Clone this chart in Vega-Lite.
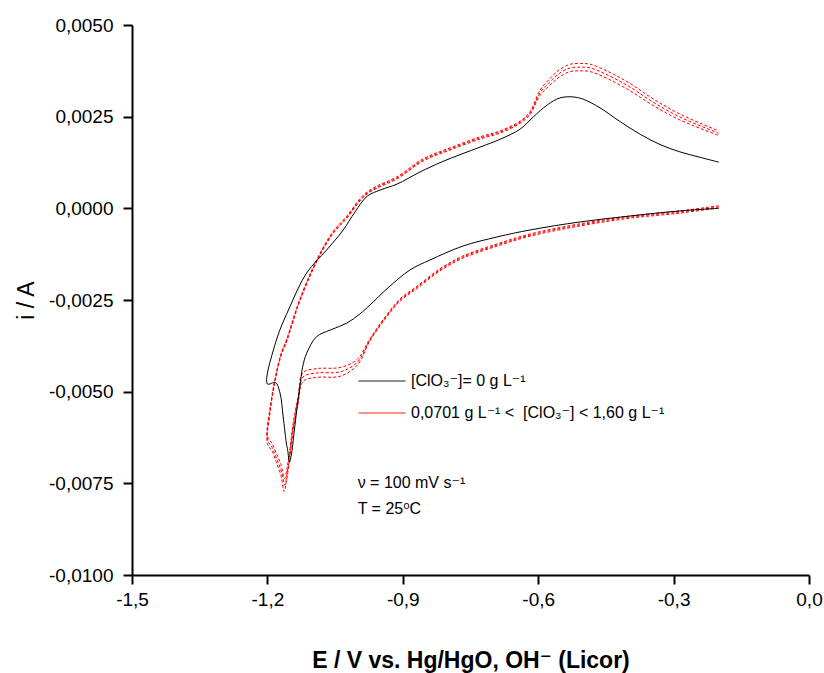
{
  "$schema": "https://vega.github.io/schema/vega-lite/v6.json",
  "width": 677,
  "height": 550,
  "autosize": {"type": "none"},
  "padding": {"left": 132, "top": 25, "right": 15, "bottom": 98},
  "background": "white",
  "config": {
    "view": {"stroke": null},
    "font": "Liberation Sans, Arial, DejaVu Sans",
    "axis": {
      "grid": false,
      "domainColor": "black",
      "domainWidth": 2,
      "tickColor": "black",
      "tickWidth": 2,
      "tickSize": 9,
      "labelColor": "black",
      "labelFontSize": 19,
      "labelPadding": 6,
      "labelFlush": false,
      "labelOverlap": false,
      "titleColor": "black"
    }
  },
  "datasets": {
    "black": [
      {"k": 1, "E": -0.2, "i": 0.0},
      {"k": 2, "E": -0.286, "i": -0.00007},
      {"k": 3, "E": -0.397, "i": -0.00021},
      {"k": 4, "E": -0.507, "i": -0.00037},
      {"k": 5, "E": -0.618, "i": -0.00059},
      {"k": 6, "E": -0.691, "i": -0.00078},
      {"k": 7, "E": -0.767, "i": -0.00103},
      {"k": 8, "E": -0.84, "i": -0.00141},
      {"k": 9, "E": -0.884, "i": -0.00168},
      {"k": 10, "E": -0.933, "i": -0.00217},
      {"k": 11, "E": -0.973, "i": -0.00264},
      {"k": 12, "E": -0.995, "i": -0.00288},
      {"k": 13, "E": -1.024, "i": -0.00313},
      {"k": 14, "E": -1.061, "i": -0.00332},
      {"k": 15, "E": -1.091, "i": -0.0035},
      {"k": 16, "E": -1.113, "i": -0.00395},
      {"k": 17, "E": -1.122, "i": -0.00433},
      {"k": 18, "E": -1.128, "i": -0.00487},
      {"k": 19, "E": -1.135, "i": -0.0055},
      {"k": 20, "E": -1.141, "i": -0.00613},
      {"k": 21, "E": -1.147, "i": -0.00673},
      {"k": 22, "E": -1.151, "i": -0.00692},
      {"k": 23, "E": -1.155, "i": -0.0066},
      {"k": 24, "E": -1.158, "i": -0.0064},
      {"k": 25, "E": -1.165, "i": -0.00569},
      {"k": 26, "E": -1.172, "i": -0.00504},
      {"k": 27, "E": -1.182, "i": -0.00475},
      {"k": 28, "E": -1.2, "i": -0.00479},
      {"k": 29, "E": -1.18, "i": -0.00359},
      {"k": 30, "E": -1.15, "i": -0.00268},
      {"k": 31, "E": -1.113, "i": -0.00176},
      {"k": 32, "E": -1.069, "i": -0.00114},
      {"k": 33, "E": -1.032, "i": -0.00059},
      {"k": 34, "E": -1.006, "i": -0.0001},
      {"k": 35, "E": -0.979, "i": 0.00033},
      {"k": 36, "E": -0.95, "i": 0.0005},
      {"k": 37, "E": -0.913, "i": 0.00066},
      {"k": 38, "E": -0.862, "i": 0.00099},
      {"k": 39, "E": -0.811, "i": 0.00128},
      {"k": 40, "E": -0.729, "i": 0.00167},
      {"k": 41, "E": -0.685, "i": 0.00188},
      {"k": 42, "E": -0.64, "i": 0.00216},
      {"k": 43, "E": -0.611, "i": 0.00249},
      {"k": 44, "E": -0.58, "i": 0.00282},
      {"k": 45, "E": -0.552, "i": 0.00301},
      {"k": 46, "E": -0.525, "i": 0.00304},
      {"k": 47, "E": -0.501, "i": 0.00298},
      {"k": 48, "E": -0.463, "i": 0.00274},
      {"k": 49, "E": -0.419, "i": 0.00237},
      {"k": 50, "E": -0.374, "i": 0.00202},
      {"k": 51, "E": -0.33, "i": 0.00174},
      {"k": 52, "E": -0.286, "i": 0.00154},
      {"k": 53, "E": -0.241, "i": 0.00139},
      {"k": 54, "E": -0.2, "i": 0.00126}
    ],
    "red": [
      {"s": "a", "k": 1, "E": -0.2, "i": 0.00007},
      {"s": "a", "k": 2, "E": -0.286, "i": -0.00007},
      {"s": "a", "k": 3, "E": -0.397, "i": -0.00021},
      {"s": "a", "k": 4, "E": -0.507, "i": -0.00042},
      {"s": "a", "k": 5, "E": -0.618, "i": -0.0007},
      {"s": "a", "k": 6, "E": -0.691, "i": -0.00097},
      {"s": "a", "k": 7, "E": -0.767, "i": -0.0013},
      {"s": "a", "k": 8, "E": -0.818, "i": -0.00165},
      {"s": "a", "k": 9, "E": -0.868, "i": -0.00212},
      {"s": "a", "k": 10, "E": -0.906, "i": -0.00247},
      {"s": "a", "k": 11, "E": -0.939, "i": -0.00296},
      {"s": "a", "k": 12, "E": -0.973, "i": -0.00356},
      {"s": "a", "k": 13, "E": -1.001, "i": -0.00412},
      {"s": "a", "k": 14, "E": -1.039, "i": -0.00434},
      {"s": "a", "k": 15, "E": -1.09, "i": -0.00437},
      {"s": "a", "k": 16, "E": -1.121, "i": -0.00448},
      {"s": "a", "k": 17, "E": -1.132, "i": -0.00513},
      {"s": "a", "k": 18, "E": -1.143, "i": -0.00586},
      {"s": "a", "k": 19, "E": -1.15, "i": -0.00655},
      {"s": "a", "k": 20, "E": -1.157, "i": -0.00712},
      {"s": "a", "k": 21, "E": -1.162, "i": -0.00737},
      {"s": "a", "k": 22, "E": -1.17, "i": -0.00699},
      {"s": "a", "k": 23, "E": -1.181, "i": -0.00666},
      {"s": "a", "k": 24, "E": -1.19, "i": -0.00641},
      {"s": "a", "k": 25, "E": -1.2, "i": -0.00622},
      {"s": "a", "k": 26, "E": -1.194, "i": -0.00544},
      {"s": "a", "k": 27, "E": -1.183, "i": -0.00465},
      {"s": "a", "k": 28, "E": -1.17, "i": -0.00397},
      {"s": "a", "k": 29, "E": -1.157, "i": -0.00356},
      {"s": "a", "k": 30, "E": -1.128, "i": -0.00247},
      {"s": "a", "k": 31, "E": -1.09, "i": -0.00138},
      {"s": "a", "k": 32, "E": -1.055, "i": -0.00064},
      {"s": "a", "k": 33, "E": -1.024, "i": -0.00021},
      {"s": "a", "k": 34, "E": -0.995, "i": 0.00026},
      {"s": "a", "k": 35, "E": -0.979, "i": 0.00045},
      {"s": "a", "k": 36, "E": -0.957, "i": 0.00061},
      {"s": "a", "k": 37, "E": -0.913, "i": 0.00086},
      {"s": "a", "k": 38, "E": -0.855, "i": 0.00135},
      {"s": "a", "k": 39, "E": -0.795, "i": 0.00165},
      {"s": "a", "k": 40, "E": -0.729, "i": 0.00195},
      {"s": "a", "k": 41, "E": -0.685, "i": 0.00211},
      {"s": "a", "k": 42, "E": -0.64, "i": 0.00238},
      {"s": "a", "k": 43, "E": -0.618, "i": 0.00264},
      {"s": "a", "k": 44, "E": -0.596, "i": 0.00322},
      {"s": "a", "k": 45, "E": -0.574, "i": 0.00354},
      {"s": "a", "k": 46, "E": -0.552, "i": 0.00379},
      {"s": "a", "k": 47, "E": -0.529, "i": 0.00393},
      {"s": "a", "k": 48, "E": -0.507, "i": 0.00395},
      {"s": "a", "k": 49, "E": -0.485, "i": 0.00393},
      {"s": "a", "k": 50, "E": -0.447, "i": 0.00374},
      {"s": "a", "k": 51, "E": -0.397, "i": 0.00341},
      {"s": "a", "k": 52, "E": -0.346, "i": 0.00299},
      {"s": "a", "k": 53, "E": -0.286, "i": 0.00257},
      {"s": "a", "k": 54, "E": -0.2, "i": 0.00211},
      {"s": "b", "k": 1, "E": -0.2, "i": 0.00004},
      {"s": "b", "k": 2, "E": -0.286, "i": -0.0001},
      {"s": "b", "k": 3, "E": -0.397, "i": -0.00024},
      {"s": "b", "k": 4, "E": -0.507, "i": -0.00045},
      {"s": "b", "k": 5, "E": -0.618, "i": -0.00073},
      {"s": "b", "k": 6, "E": -0.691, "i": -0.001},
      {"s": "b", "k": 7, "E": -0.767, "i": -0.00133},
      {"s": "b", "k": 8, "E": -0.818, "i": -0.00168},
      {"s": "b", "k": 9, "E": -0.868, "i": -0.00215},
      {"s": "b", "k": 10, "E": -0.906, "i": -0.0025},
      {"s": "b", "k": 11, "E": -0.939, "i": -0.00299},
      {"s": "b", "k": 12, "E": -0.973, "i": -0.00359},
      {"s": "b", "k": 13, "E": -1.001, "i": -0.0042},
      {"s": "b", "k": 14, "E": -1.039, "i": -0.00446},
      {"s": "b", "k": 15, "E": -1.09, "i": -0.00449},
      {"s": "b", "k": 16, "E": -1.121, "i": -0.0046},
      {"s": "b", "k": 17, "E": -1.132, "i": -0.00523},
      {"s": "b", "k": 18, "E": -1.143, "i": -0.00596},
      {"s": "b", "k": 19, "E": -1.15, "i": -0.00667},
      {"s": "b", "k": 20, "E": -1.157, "i": -0.00728},
      {"s": "b", "k": 21, "E": -1.161, "i": -0.00755},
      {"s": "b", "k": 22, "E": -1.17, "i": -0.00714},
      {"s": "b", "k": 23, "E": -1.181, "i": -0.00678},
      {"s": "b", "k": 24, "E": -1.19, "i": -0.00651},
      {"s": "b", "k": 25, "E": -1.2, "i": -0.00632},
      {"s": "b", "k": 26, "E": -1.194, "i": -0.0055},
      {"s": "b", "k": 27, "E": -1.183, "i": -0.00468},
      {"s": "b", "k": 28, "E": -1.17, "i": -0.004},
      {"s": "b", "k": 29, "E": -1.157, "i": -0.00359},
      {"s": "b", "k": 30, "E": -1.128, "i": -0.0025},
      {"s": "b", "k": 31, "E": -1.09, "i": -0.00141},
      {"s": "b", "k": 32, "E": -1.055, "i": -0.00067},
      {"s": "b", "k": 33, "E": -1.024, "i": -0.00024},
      {"s": "b", "k": 34, "E": -0.995, "i": 0.00023},
      {"s": "b", "k": 35, "E": -0.979, "i": 0.00042},
      {"s": "b", "k": 36, "E": -0.957, "i": 0.00058},
      {"s": "b", "k": 37, "E": -0.913, "i": 0.00083},
      {"s": "b", "k": 38, "E": -0.855, "i": 0.00132},
      {"s": "b", "k": 39, "E": -0.795, "i": 0.00162},
      {"s": "b", "k": 40, "E": -0.729, "i": 0.00192},
      {"s": "b", "k": 41, "E": -0.685, "i": 0.00208},
      {"s": "b", "k": 42, "E": -0.64, "i": 0.00235},
      {"s": "b", "k": 43, "E": -0.618, "i": 0.0026},
      {"s": "b", "k": 44, "E": -0.596, "i": 0.00315},
      {"s": "b", "k": 45, "E": -0.574, "i": 0.00345},
      {"s": "b", "k": 46, "E": -0.552, "i": 0.00369},
      {"s": "b", "k": 47, "E": -0.529, "i": 0.00383},
      {"s": "b", "k": 48, "E": -0.507, "i": 0.00385},
      {"s": "b", "k": 49, "E": -0.485, "i": 0.00383},
      {"s": "b", "k": 50, "E": -0.447, "i": 0.00364},
      {"s": "b", "k": 51, "E": -0.397, "i": 0.00331},
      {"s": "b", "k": 52, "E": -0.346, "i": 0.0029},
      {"s": "b", "k": 53, "E": -0.286, "i": 0.00249},
      {"s": "b", "k": 54, "E": -0.2, "i": 0.00205},
      {"s": "c", "k": 1, "E": -0.2, "i": 0.00001},
      {"s": "c", "k": 2, "E": -0.286, "i": -0.00013},
      {"s": "c", "k": 3, "E": -0.397, "i": -0.00027},
      {"s": "c", "k": 4, "E": -0.507, "i": -0.00048},
      {"s": "c", "k": 5, "E": -0.618, "i": -0.00076},
      {"s": "c", "k": 6, "E": -0.691, "i": -0.00103},
      {"s": "c", "k": 7, "E": -0.767, "i": -0.00136},
      {"s": "c", "k": 8, "E": -0.818, "i": -0.00171},
      {"s": "c", "k": 9, "E": -0.868, "i": -0.00218},
      {"s": "c", "k": 10, "E": -0.906, "i": -0.00253},
      {"s": "c", "k": 11, "E": -0.939, "i": -0.00302},
      {"s": "c", "k": 12, "E": -0.973, "i": -0.00362},
      {"s": "c", "k": 13, "E": -1.001, "i": -0.00428},
      {"s": "c", "k": 14, "E": -1.039, "i": -0.00458},
      {"s": "c", "k": 15, "E": -1.09, "i": -0.00461},
      {"s": "c", "k": 16, "E": -1.121, "i": -0.00472},
      {"s": "c", "k": 17, "E": -1.132, "i": -0.00533},
      {"s": "c", "k": 18, "E": -1.143, "i": -0.00606},
      {"s": "c", "k": 19, "E": -1.15, "i": -0.00679},
      {"s": "c", "k": 20, "E": -1.158, "i": -0.00745},
      {"s": "c", "k": 21, "E": -1.163, "i": -0.00772},
      {"s": "c", "k": 22, "E": -1.17, "i": -0.00729},
      {"s": "c", "k": 23, "E": -1.181, "i": -0.0069},
      {"s": "c", "k": 24, "E": -1.19, "i": -0.00661},
      {"s": "c", "k": 25, "E": -1.2, "i": -0.00642},
      {"s": "c", "k": 26, "E": -1.194, "i": -0.00556},
      {"s": "c", "k": 27, "E": -1.183, "i": -0.00471},
      {"s": "c", "k": 28, "E": -1.17, "i": -0.00403},
      {"s": "c", "k": 29, "E": -1.157, "i": -0.00362},
      {"s": "c", "k": 30, "E": -1.128, "i": -0.00253},
      {"s": "c", "k": 31, "E": -1.09, "i": -0.00144},
      {"s": "c", "k": 32, "E": -1.055, "i": -0.0007},
      {"s": "c", "k": 33, "E": -1.024, "i": -0.00027},
      {"s": "c", "k": 34, "E": -0.995, "i": 0.0002},
      {"s": "c", "k": 35, "E": -0.979, "i": 0.00039},
      {"s": "c", "k": 36, "E": -0.957, "i": 0.00055},
      {"s": "c", "k": 37, "E": -0.913, "i": 0.0008},
      {"s": "c", "k": 38, "E": -0.855, "i": 0.00129},
      {"s": "c", "k": 39, "E": -0.795, "i": 0.00159},
      {"s": "c", "k": 40, "E": -0.729, "i": 0.00189},
      {"s": "c", "k": 41, "E": -0.685, "i": 0.00205},
      {"s": "c", "k": 42, "E": -0.64, "i": 0.00232},
      {"s": "c", "k": 43, "E": -0.618, "i": 0.00256},
      {"s": "c", "k": 44, "E": -0.596, "i": 0.00308},
      {"s": "c", "k": 45, "E": -0.574, "i": 0.00336},
      {"s": "c", "k": 46, "E": -0.552, "i": 0.00359},
      {"s": "c", "k": 47, "E": -0.529, "i": 0.00373},
      {"s": "c", "k": 48, "E": -0.507, "i": 0.00375},
      {"s": "c", "k": 49, "E": -0.485, "i": 0.00373},
      {"s": "c", "k": 50, "E": -0.447, "i": 0.00354},
      {"s": "c", "k": 51, "E": -0.397, "i": 0.00321},
      {"s": "c", "k": 52, "E": -0.346, "i": 0.00281},
      {"s": "c", "k": 53, "E": -0.286, "i": 0.00241},
      {"s": "c", "k": 54, "E": -0.2, "i": 0.00199}
    ],
    "notes": [
      {"E": -1.0, "i": -0.00749, "t": "ν = 100 mV s⁻¹"},
      {"E": -1.0, "i": -0.0082, "t": "T = 25⁰C"}
    ]
  },
  "layer": [
    {
      "data": {"name": "red"},
      "mark": {"type": "line", "strokeWidth": 1, "strokeDash": [3, 2], "interpolate": "catmull-rom"},
      "encoding": {
        "x": {"field": "E", "type": "quantitative"},
        "y": {"field": "i", "type": "quantitative"},
        "order": {"field": "k", "type": "quantitative"},
        "detail": {"field": "s", "type": "nominal"},
        "color": {"datum": "range", "type": "nominal"}
      }
    },
    {
      "data": {"name": "black"},
      "mark": {"type": "line", "strokeWidth": 1, "interpolate": "catmull-rom"},
      "encoding": {
        "x": {
          "field": "E", "type": "quantitative",
          "scale": {"domain": [-1.5, 0], "nice": false, "zero": false},
          "axis": {
            "values": [-1.5, -1.2, -0.9, -0.6, -0.3, 0],
            "labelExpr": "replace(replace(format(datum.value, '.1f'), '.', ','), '\u2212', '-')",
            "title": "E / V vs. Hg/HgO, OH⁻ (Licor)",
            "titleFontWeight": "bold",
            "titleFontSize": 23,
            "titleY": 85,
            "titleBaseline": "middle"
          }
        },
        "y": {
          "field": "i", "type": "quantitative",
          "scale": {"domain": [-0.01, 0.005], "nice": false, "zero": false},
          "axis": {
            "values": [-0.01, -0.0075, -0.005, -0.0025, 0, 0.0025, 0.005],
            "labelExpr": "replace(replace(format(datum.value, '.4f'), '.', ','), '\u2212', '-')",
            "labelPadding": 10,
            "title": "i / A",
            "titleFontWeight": "normal",
            "titleFontSize": 23,
            "titleX": -94,
            "titleY": 275
          }
        },
        "order": {"field": "k", "type": "quantitative"},
        "color": {
          "datum": "zero", "type": "nominal",
          "scale": {"domain": ["zero", "range"], "range": ["#000000", "#ff0000"]},
          "legend": {
            "title": null,
            "orient": "none",
            "legendX": 226,
            "legendY": 332,
            "symbolType": "M-1,0H1",
            "symbolSize": 2209,
            "symbolStrokeWidth": 1,
            "symbolDash": [1, 0],
            "labelFontSize": 16,
            "labelColor": "black",
            "labelOffset": 5,
            "rowPadding": -3,
            "labelLimit": 400,
            "labelExpr": "datum.value == 'zero' ? '[ClO₃⁻]= 0 g L⁻¹' : '0,0701 g L⁻¹ <\u00a0 [ClO₃⁻] < 1,60 g L⁻¹'"
          }
        }
      }
    },
    {
      "data": {"name": "notes"},
      "mark": {"type": "text", "align": "left", "baseline": "middle", "fontSize": 16, "color": "black"},
      "encoding": {
        "x": {"field": "E", "type": "quantitative"},
        "y": {"field": "i", "type": "quantitative"},
        "text": {"field": "t"}
      }
    }
  ]
}
